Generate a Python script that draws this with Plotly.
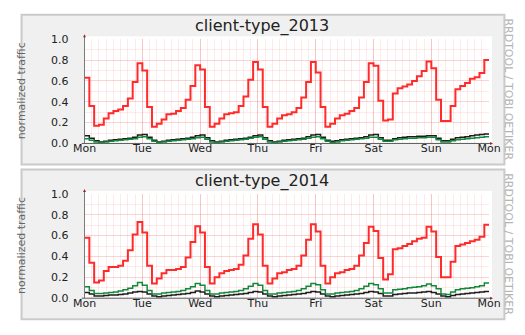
import plotly.graph_objects as go

W, H = 525, 335

day_labels = ["Mon", "Tue", "Wed", "Thu", "Fri", "Sat", "Sun", "Mon"]
titles = ["client-type_2013", "client-type_2014"]
y_title = "normalized traffic"
credit = "RRDTOOL / TOBI OETIKER"
step_hours = 2  # 12 samples per day

# ---- 2013 (top) ----
red_2013 = [
    0.63, 0.36, 0.17, 0.18, 0.24, 0.29, 0.31, 0.325, 0.36, 0.43, 0.59, 0.77,   # Mon
    0.70, 0.35, 0.16, 0.19, 0.23, 0.28, 0.285, 0.31, 0.34, 0.42, 0.55, 0.75,   # Tue
    0.71, 0.35, 0.16, 0.19, 0.24, 0.28, 0.29, 0.30, 0.36, 0.45, 0.61, 0.78,    # Wed
    0.71, 0.35, 0.16, 0.19, 0.24, 0.27, 0.28, 0.30, 0.34, 0.44, 0.59, 0.78,    # Thu
    0.68, 0.35, 0.16, 0.19, 0.24, 0.27, 0.285, 0.31, 0.34, 0.44, 0.59, 0.77,   # Fri
    0.745, 0.41, 0.22, 0.23, 0.48, 0.53, 0.545, 0.565, 0.60, 0.645, 0.695, 0.785,  # Sat
    0.72, 0.42, 0.215, 0.215, 0.36, 0.52, 0.55, 0.58, 0.62, 0.635, 0.675, 0.80,    # Sun
]
black_2013 = [
    0.075, 0.05, 0.025, 0.015, 0.02, 0.03, 0.035, 0.04, 0.045, 0.05, 0.06, 0.08,
    0.085, 0.06, 0.03, 0.015, 0.02, 0.03, 0.035, 0.04, 0.045, 0.05, 0.06, 0.075,
    0.08, 0.055, 0.025, 0.015, 0.02, 0.03, 0.035, 0.04, 0.045, 0.05, 0.06, 0.075,
    0.08, 0.055, 0.025, 0.015, 0.02, 0.03, 0.035, 0.04, 0.045, 0.05, 0.065, 0.08,
    0.085, 0.06, 0.03, 0.02, 0.025, 0.035, 0.04, 0.045, 0.05, 0.055, 0.065, 0.08,
    0.085, 0.055, 0.03, 0.03, 0.045, 0.055, 0.06, 0.065, 0.065, 0.07, 0.07, 0.075,
    0.075, 0.05, 0.025, 0.025, 0.04, 0.055, 0.06, 0.065, 0.075, 0.08, 0.085, 0.09,
]
green_2013 = [
    0.045, 0.03, 0.015, 0.01, 0.015, 0.02, 0.025, 0.03, 0.035, 0.04, 0.045, 0.06,
    0.065, 0.045, 0.02, 0.01, 0.015, 0.02, 0.025, 0.03, 0.035, 0.04, 0.045, 0.055,
    0.06, 0.04, 0.015, 0.01, 0.015, 0.02, 0.025, 0.03, 0.035, 0.04, 0.05, 0.06,
    0.065, 0.04, 0.015, 0.01, 0.015, 0.02, 0.025, 0.03, 0.035, 0.04, 0.05, 0.06,
    0.065, 0.045, 0.02, 0.01, 0.015, 0.025, 0.03, 0.035, 0.04, 0.045, 0.05, 0.06,
    0.06, 0.04, 0.02, 0.02, 0.035, 0.04, 0.045, 0.05, 0.05, 0.055, 0.055, 0.06,
    0.06, 0.035, 0.015, 0.015, 0.025, 0.035, 0.04, 0.045, 0.05, 0.055, 0.06, 0.065,
]

# ---- 2014 (bottom) ----
red_2014 = [
    0.58, 0.34, 0.15, 0.17, 0.26, 0.30, 0.30, 0.31, 0.36, 0.46, 0.61, 0.73,
    0.63, 0.31, 0.14, 0.19, 0.24, 0.27, 0.27, 0.28, 0.30, 0.39, 0.54, 0.69,
    0.63, 0.30, 0.14, 0.20, 0.24, 0.26, 0.27, 0.28, 0.32, 0.41, 0.57, 0.71,
    0.61, 0.31, 0.14, 0.19, 0.24, 0.25, 0.27, 0.28, 0.31, 0.41, 0.56, 0.71,
    0.64, 0.31, 0.14, 0.20, 0.24, 0.25, 0.27, 0.28, 0.31, 0.41, 0.53, 0.685,
    0.645, 0.385, 0.18, 0.23, 0.47, 0.48, 0.50, 0.52, 0.545, 0.57, 0.58, 0.685,
    0.64, 0.395, 0.20, 0.20, 0.35, 0.50, 0.515, 0.53, 0.545, 0.56, 0.59, 0.705,
]
green_2014 = [
    0.11, 0.075, 0.045, 0.045, 0.05, 0.055, 0.06, 0.07, 0.08, 0.095, 0.12, 0.15,
    0.125, 0.075, 0.04, 0.04, 0.05, 0.055, 0.06, 0.065, 0.075, 0.09, 0.11, 0.14,
    0.125, 0.075, 0.04, 0.04, 0.05, 0.055, 0.06, 0.065, 0.075, 0.09, 0.115, 0.14,
    0.125, 0.075, 0.04, 0.04, 0.05, 0.055, 0.06, 0.065, 0.075, 0.09, 0.115, 0.14,
    0.13, 0.08, 0.04, 0.04, 0.05, 0.055, 0.06, 0.065, 0.075, 0.09, 0.115, 0.14,
    0.13, 0.09, 0.05, 0.05, 0.08, 0.085, 0.09, 0.10, 0.105, 0.11, 0.12, 0.135,
    0.12, 0.09, 0.04, 0.035, 0.06, 0.08, 0.09, 0.095, 0.10, 0.11, 0.12, 0.145,
]
black_2014 = [
    0.055, 0.04, 0.02, 0.02, 0.025, 0.03, 0.03, 0.035, 0.04, 0.05, 0.06, 0.065,
    0.06, 0.04, 0.02, 0.015, 0.02, 0.025, 0.03, 0.035, 0.04, 0.045, 0.055, 0.07,
    0.06, 0.04, 0.02, 0.015, 0.02, 0.025, 0.03, 0.035, 0.04, 0.045, 0.055, 0.065,
    0.06, 0.04, 0.02, 0.015, 0.02, 0.025, 0.03, 0.035, 0.04, 0.045, 0.055, 0.065,
    0.06, 0.04, 0.02, 0.015, 0.02, 0.025, 0.03, 0.035, 0.04, 0.045, 0.055, 0.065,
    0.06, 0.045, 0.02, 0.02, 0.035, 0.04, 0.045, 0.05, 0.05, 0.055, 0.06, 0.065,
    0.055, 0.04, 0.02, 0.015, 0.025, 0.035, 0.04, 0.045, 0.05, 0.055, 0.06, 0.065,
]

RED = "#ff2b2b"
GREEN = "#12893a"
BLACK = "#1c1c1c"
FONT = "DejaVu Sans"
MAJOR_GRID = "rgba(240,110,110,0.30)"
MINOR_GRID = "rgba(240,110,110,0.14)"


def px(x):
    return x / W


def py(y):
    return 1 - y / H


hours = [i * step_hours for i in range(len(red_2013) + 1)]


def stepped(vals):
    return list(vals) + [vals[-1]]


fig = go.Figure()

panels = [
    dict(top=9, title_y=21, series=[(red_2013, RED, 2.0), (black_2013, BLACK, 1.5), (green_2013, GREEN, 1.5)]),
    dict(top=170, title_y=182, series=[(red_2014, RED, 2.0), (black_2014, BLACK, 1.5), (green_2014, GREEN, 1.5)]),
]

PLOT_L, PLOT_R = 76, 500
shapes = []
annotations = []

for i, p in enumerate(panels):
    t = p["top"]
    plot_top = t + 25.5
    plot_bot = t + 134
    xa = "x" if i == 0 else "x2"
    ya = "y" if i == 0 else "y2"
    for vals, col, w in p["series"]:
        fig.add_trace(go.Scatter(
            x=hours, y=stepped(vals), mode="lines",
            line=dict(shape="hv", color=col, width=w),
            xaxis=xa, yaxis=ya, hoverinfo="skip", showlegend=False,
        ))
    axis_common = dict(fixedrange=True, zeroline=False, showline=False)
    xkey = "xaxis" if i == 0 else "xaxis2"
    ykey = "yaxis" if i == 0 else "yaxis2"
    fig.update_layout(**{
        xkey: dict(
            domain=[px(PLOT_L), px(PLOT_R)], range=[0, 168], anchor=ya,
            tickmode="array", tickvals=[24 * k for k in range(8)], ticktext=day_labels,
            showgrid=True, gridcolor=MAJOR_GRID, gridwidth=1,
            minor=dict(tickmode="linear", tick0=0, dtick=3, showgrid=True,
                       gridcolor=MINOR_GRID, gridwidth=1),
            ticks="", tickfont=dict(family=FONT, size=11, color="#222"),
            ticklabelstandoff=-3, **axis_common),
        ykey: dict(
            domain=[py(plot_bot), py(plot_top)], range=[0, 1], anchor=xa,
            tickmode="linear", tick0=0, dtick=0.2, tickformat=".1f",
            showgrid=True, gridcolor=MAJOR_GRID, gridwidth=1,
            minor=dict(tickmode="linear", tick0=0, dtick=0.1, showgrid=True,
                       gridcolor=MINOR_GRID, gridwidth=1),
            ticks="", tickfont=dict(family=FONT, size=11, color="#222"),
            ticklabelstandoff=15, **axis_common),
    })
    # gray panel and white canvas
    shapes.append(dict(type="rect", xref="paper", yref="paper", layer="below",
                       x0=px(10), x1=px(516), y0=py(t + 156), y1=py(t),
                       fillcolor="#f0f0f0", line=dict(color="#cacaca", width=2)))
    shapes.append(dict(type="rect", xref="paper", yref="paper", layer="below",
                       x0=px(PLOT_L), x1=px(503), y0=py(plot_bot), y1=py(plot_top - 3),
                       fillcolor="#ffffff", line=dict(width=0)))
    # axis lines
    shapes.append(dict(type="line", xref="paper", yref="paper", layer="above",
                       x0=px(PLOT_L), x1=px(PLOT_L), y0=py(plot_bot), y1=py(plot_top - 3),
                       line=dict(color="#7a7a7a", width=1)))
    shapes.append(dict(type="line", xref="paper", yref="paper", layer="above",
                       x0=px(PLOT_L - 3), x1=px(503), y0=py(plot_bot), y1=py(plot_bot),
                       line=dict(color="#5a5a5a", width=1)))
    # arrows
    shapes.append(dict(type="path", xref="paper", yref="paper", layer="above",
                       path=f"M {px(PLOT_L-1.5)},{py(plot_top-2)} L {px(PLOT_L+1.5)},{py(plot_top-2)} L {px(PLOT_L)},{py(plot_top-5)} Z",
                       fillcolor="#9a2020", line=dict(width=0)))
    shapes.append(dict(type="path", xref="paper", yref="paper", layer="above",
                       path=f"M {px(501)},{py(plot_bot-1.5)} L {px(501)},{py(plot_bot+1.5)} L {px(504)},{py(plot_bot)} Z",
                       fillcolor="#9a2020", line=dict(width=0)))
    annotations.append(dict(text=titles[i], xref="paper", yref="paper",
                            x=px(262), y=py(p["title_y"]), xanchor="center", yanchor="middle",
                            showarrow=False, font=dict(family=FONT, size=16, color="#222")))
    annotations.append(dict(text=y_title, xref="paper", yref="paper", textangle=-90,
                            x=px(10), y=py(t + 79), xanchor="center", yanchor="middle",
                            showarrow=False, font=dict(family=FONT, size=11, color="#666")))
    annotations.append(dict(text=credit, xref="paper", yref="paper", textangle=90,
                            x=px(520), y=py(t + 78), xanchor="center", yanchor="middle",
                            showarrow=False, font=dict(family=FONT, size=11, color="#b4b4b4")))

fig.update_layout(
    width=W, height=H, autosize=False,
    margin=dict(l=0, r=0, t=0, b=0),
    paper_bgcolor="#ffffff", plot_bgcolor="#ffffff",
    showlegend=False, shapes=shapes, annotations=annotations,
)

fig.write_html("out.html")
